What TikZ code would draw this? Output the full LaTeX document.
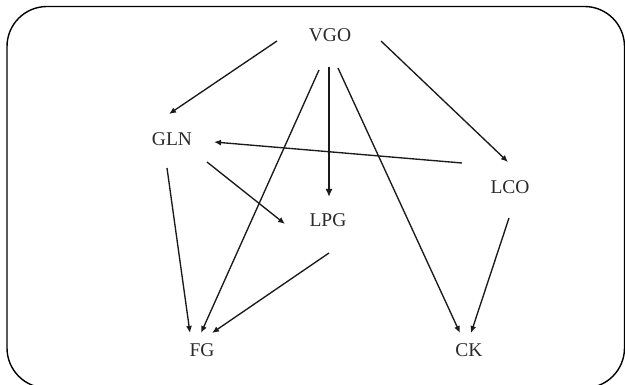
\documentclass[tikz,border=0pt]{standalone}
\usepackage{fontspec}
\setmainfont{Liberation Serif}
\usetikzlibrary{calc,arrows.meta}
\definecolor{txt}{HTML}{2A2A2A}
\definecolor{ln}{HTML}{1A1A1A}
\tikzset{
  lbl/.style={inner sep=0pt, text=txt, font=\fontsize{19.5}{21}\selectfont},
  edge/.style={draw=ln, line width=1.35pt, -{Latex[length=7pt,width=6pt]}},
  thickedge/.style={draw=ln, line width=2.1pt, -{Latex[length=8pt,width=7pt]}}
}
\begin{document}
\begin{tikzpicture}[x=1pt,y=-1pt]
\useasboundingbox (0,0) rectangle (625,385);
\draw[line width=1.4pt, rounded corners=40pt] (7,6.5) rectangle (624.5,388);
\node[lbl] (VGO) at (330,35) {VGO};
\node[lbl] (GLN) at (172,139) {GLN};
\node[lbl] (LPG) at (328,220) {LPG};
\node[lbl] (LCO) at (510,187) {LCO};
\node[lbl] (FG) at (202,350) {FG};
\node[lbl] (CK) at (469,350) {CK};
\draw[edge] ($(VGO)+(-53,6)$) -- ($(GLN)+(-3,-25)$);
\draw[edge] ($(VGO)+(51,6)$) -- ($(LCO)+(-2,-25)$);
\draw[edge] ($(VGO)+(-11,35)$) -- ($(FG)+(-1,-17)$);
\draw[thickedge] ($(VGO)+(-1,32)$) -- ($(LPG)+(1,-23)$);
\draw[edge] ($(VGO)+(8,33)$) -- ($(CK)+(-9,-17)$);
\draw[edge] ($(LCO)+(-48,-24)$) -- ($(GLN)+(42,3)$);
\draw[edge] ($(GLN)+(35,23)$) -- ($(LPG)+(-43,4)$);
\draw[edge] ($(GLN)+(-5,29)$) -- ($(FG)+(-12,-17)$);
\draw[edge] ($(LCO)+(-1,31)$) -- ($(CK)+(2,-17)$);
\draw[edge] ($(LPG)+(1,33)$) -- ($(FG)+(10,-17)$);
\end{tikzpicture}
\end{document}
